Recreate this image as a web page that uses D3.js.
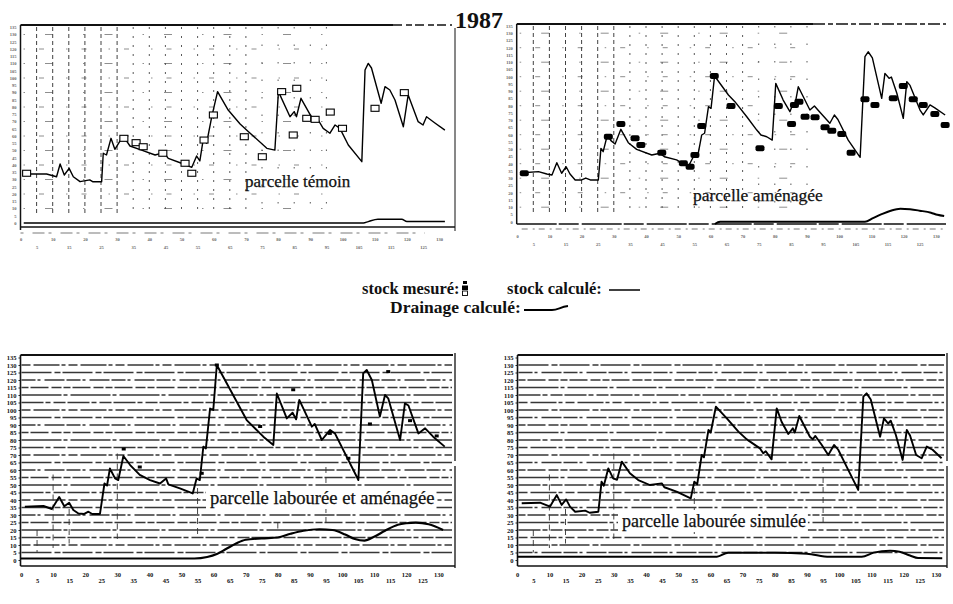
<!DOCTYPE html>
<html><head><meta charset="utf-8">
<script src="https://cdn.jsdelivr.net/npm/d3@7"></script>
<style>body{margin:0;background:#fff}svg{display:block}</style>
</head><body><svg id="c" width="953" height="604"></svg>
<script>
// ---------------- DATA ----------------
const title = "1987";
const yTickValues = d3.range(0, 136, 5);
const xTickRow1 = d3.range(0, 131, 10);
const xTickRow2 = d3.range(5, 131, 10);

// parcelle témoin
const temoinDays = [1.4,8.1,11.2,12.3,13.6,15.1,16.4,18.5,21.5,22.4,25.2,25.7,26.7,28.1,29.3,31.6,32.4,34,37.6,41.8,44.5,45.9,50,53.2,54.7,55.7,56.8,57.8,59.4,61.2,64.5,68.2,70.8,76.5,79,80.1,83.7,85,85.7,87.1,90.9,91.9,94,96.1,97.7,99.2,101.8,106,107,108,109,112,113.2,114.7,116.3,118.9,120.4,123.5,125,126.1,128.7,131.8];
const temoinStock = [33.8,33.8,31.9,40.7,33.1,37.7,31.9,28.5,29.7,28.5,28.5,48.1,46.9,58.4,50.8,59.1,58.4,53.1,50.3,46.9,48.5,44.6,41.2,38.4,46.2,42.8,58.4,55,73.3,90.6,77.9,68.3,63,51.5,50.3,90.6,73.3,76.8,73.3,86,71,73.1,65.3,61.9,67.6,65.3,53.8,42.3,105.5,110.1,106.9,82.6,94,91.7,84.8,66.4,88.3,69.9,67.6,73.3,69,64.1];
const temoinMesDays = [1.9,32.1,35.9,38.1,44.2,51.1,53.2,57,59.9,69.5,75.1,81.1,84.7,85.8,88.9,91.5,96.2,100,110.1,119.2];
const temoinMes = [34.3,58.4,55.4,52.6,48.1,41.2,34.3,57.2,74.5,59.5,45.7,90.6,60.7,92.9,72.2,71.5,76.5,65.3,79.1,89.9];
const temoinDrainDays = [1,106.5,108,111,118.4,120,131.8];
const temoinDrain = [0,0,1,2.6,2.6,1,1];

// parcelle aménagée
const amenDays = [1.9,6.6,9.2,10.8,12.3,13.8,15.2,16.4,18,20,21.3,22.7,25.2,26,26.7,28,29.1,30.4,32.2,34.5,37.1,41.8,44.3,45.7,49.5,53.1,55,56,57.3,58.2,59.4,60.2,61.3,65.6,67.6,71.3,74.4,75.7,77.5,79.2,80.3,82.6,84.7,85.7,86.2,87.3,90.9,92.3,93.6,97.1,98.5,99.6,102.8,106.5,108,109,110.3,113.2,114.2,115.5,116.2,117.9,119.9,121,122,125.1,126.1,128.2,129.7,132.9];
const amenStock = [33.8,34.5,32.9,32.2,40.7,33.4,37.9,32.9,28.8,28.8,30.1,28.8,28.8,50.6,48.3,59.8,55.9,53.6,63.7,54.5,49.9,46,47.2,44.8,42.6,37.9,46,44.5,59.8,61,79.3,78.2,100.5,87.4,82.8,72.4,63.2,59.8,58.6,56.3,95.4,83.9,75.9,81.7,80,93.1,77,79.8,76.5,67.9,73.6,70.5,56.3,44.4,113.8,117.2,113,85.1,102.3,98.9,99.8,88.6,71.3,96.6,94,77,73.6,80.5,78.5,73.6];
const amenMesDays = [2.2,28.3,32.2,36.6,38.4,44.9,51.6,53.7,55.2,57.3,61.2,66.4,75.4,81.1,85.2,86.1,87.5,89.4,92.5,95.6,97.7,100.8,103.7,108,111.1,116.8,119.9,123,126.1,129.7,132.9];
const amenMes = [33.4,58.6,67.4,57.5,52.9,47.6,40.3,37.9,46,66,100.5,79.8,50.6,79.8,67.4,80.5,82.8,72.4,72,65.1,62.8,60.5,47.6,84.4,80.5,85.1,93.6,84.4,80.5,74.3,66.7];
const amenDrainDays = [61.4,63,108,110.5,113,116,119,122,125,128.5,130.5,132.6];
const amenDrain = [-1.6,0,0,2.5,5,7.6,9,8.6,7.6,6.2,4.8,3.9];

// parcelle labourée et aménagée
const labDays = [1.2,7,9.6,11.9,13.5,15,16.3,17.9,19.7,21,22.2,24.6,26,26.8,27.7,29.3,30.3,31.9,34,37,40.2,43.3,45.2,45.9,49.5,53.5,54.7,55.7,56.8,57.6,58.9,59.9,61,70.3,75.5,78.6,79.7,82.8,84.6,85.7,86.7,90.6,91.5,93.7,96.3,97.8,105.1,106.6,107.7,109.3,111.8,113.4,114.4,118.1,119.6,120.7,123.8,125.9,128.4,132];
const labStock = [35.5,36,34,42,35.8,38.2,33.3,31,30.7,32.2,30.7,30.7,51,49.6,61,54.4,53.3,69.3,63.3,56.7,53.3,51,54.4,50.4,47.8,44.4,54.4,53.3,75.6,74.4,101,100,130,93.3,82.2,76.7,111,94.4,98.2,93.8,106.7,88.9,90.7,80,86.7,84.4,53.3,124.4,126.7,120,95.6,110,107.8,80,104.4,103,84.4,87.8,82.2,75.6];
const labMesDays = [32,37,56.3,61,74.5,84.8,96.2,102,108.7,114.4,121.2,129.5];
const labMes = [74,62,57.8,130,89,113.5,84.4,67.8,90.7,125.6,92.9,82.7];
const labDrainDays = [0,54,58,61,64,67,70,75,80,84,88,93,97,101,104,107,110,113.4,117.4,120,123,127,131.5];
const labDrain = [1,1,2,4,7.5,11,13.5,14.4,15,17.5,19.5,20.5,20,17,14,12.9,15.5,19.5,23.5,24.5,24.9,23.8,20];

// parcelle labourée simulée
const simDays = [1.4,7.1,10.2,12.3,13.8,15.2,16.4,18,21.1,22.5,25.2,26.2,26.9,28.3,29.8,31,32.5,35,37.6,41.2,44.9,45.7,49.5,53.9,55,55.9,57.3,58,59.4,60.1,61.7,65.1,68.7,71.3,75.4,76.4,77.2,79,80.6,82.1,84.2,85.6,86.2,87.6,90.9,91.8,92.6,94.6,96.6,98.4,99.7,102.3,105.9,107.5,108.5,109.8,112.7,113.9,115.2,116,117.6,119.7,121,122,123.9,125.6,127.2,129,131.8];
const simStock = [37.8,38.2,35.6,43.3,36.7,40.4,35.6,32.2,32.9,31.5,32.2,52.2,49.5,61.1,54.4,53.5,65.6,57.8,53.3,50,51.1,48.5,45.6,41.1,52.2,50.5,70,68.5,86.7,85,102.2,94.4,85.6,80.4,74.4,71.1,72.5,67.1,101.1,92.2,84,87.8,85,96,82.2,80.5,82.7,76.7,70,76.7,73.5,62.2,46.7,108.9,111.1,107,82.2,94.4,91,92.9,83.3,66.7,86.7,83,70,67.8,75.6,73.5,67.8];
const simDrainDays = [0,62,65.5,80,90,97,107,110.7,115.8,118.7,122,124.5,132];
const simDrain = [2.2,2.2,4.9,4.9,4.2,2.2,2.2,4.9,6.2,5.5,3,1.3,1.2];

const panelLabels = ["parcelle témoin","parcelle aménagée","parcelle labourée et aménagée","parcelle labourée simulée"];
const legendTexts = ["stock mesuré:","stock calculé:","Drainage calculé:"];

// ---------------- LAYOUT ----------------
const svg = d3.select('#c');
svg.append('rect').attr('width',953).attr('height',604).attr('fill','#fff');
const serif = "'Liberation Serif','DejaVu Serif',serif";

const panels = [
 {x0:20.5,k:3.22,y0:223,s:1.45, fr:[20.5,25,455,227], stock:d3.zip(temoinDays,temoinStock), mes:d3.zip(temoinMesDays,temoinMes), drain:d3.zip(temoinDrainDays,temoinDrain), mesType:'open', grid:'v', vmax:95, label:panelLabels[0], lx:245, ly:187, fs:17, lw:1.4, dw:1.4, small:true, axisY:233},
 {x0:517.2,k:3.22,y0:221.7,s:1.45, fr:[516.7,24,946,224], stock:d3.zip(amenDays,amenStock), mes:d3.zip(amenMesDays,amenMes), drain:d3.zip(amenDrainDays,amenDrain), mesType:'fill', grid:'v', vmax:90, label:panelLabels[1], lx:693, ly:200.5, fs:17.5, lw:1.4, dw:2, small:true, axisY:229},
 {x0:21,k:3.21,y0:560,s:1.5, fr:[20.5,355,455,566], stock:d3.zip(labDays,labStock), mes:d3.zip(labMesDays,labMes), drain:d3.zip(labDrainDays,labDrain), mesType:'mark', grid:'h', label:panelLabels[2], lx:210, ly:504, fs:18.6, lw:1.9, dw:2.2, small:false},
 {x0:517.2,k:3.22,y0:560,s:1.5, fr:[517.5,355,947,566], stock:d3.zip(simDays,simStock), mes:[], drain:d3.zip(simDrainDays,simDrain), mesType:'none', grid:'h', label:panelLabels[3], lx:622, ly:527, fs:18, lw:1.9, dw:2, small:false}
];

const hPatterns = ["22,2,5,3,12,2","9,3,26,2,4,3","30,3,6,2","14,2,3,4,20,2","7,2,18,3,10,2","40,2,4,3"];

panels.forEach((p,pi)=>{
  const x = d3.scaleLinear().domain([0,130]).range([p.x0, p.x0+130*p.k]);
  const y = d3.scaleLinear().domain([0,135]).range([p.y0, p.y0-135*p.s]);
  const [L,T,R,B] = p.fr;
  const g = svg.append('g');

  // grid
  if (p.grid==='h') {
    d3.range(5,131,5).forEach((v,i)=>{
      g.append('line').attr('x1',L+1).attr('x2',R-3).attr('y1',y(v)).attr('y2',y(v))
       .attr('stroke','#151515').attr('stroke-width',1.3)
       .attr('stroke-dasharray',hPatterns[(i*5+pi)%hPatterns.length]).attr('opacity',0.85);
    });
    [5,10,15,30,55,80,95].forEach((d,i)=>{
      g.append('line').attr('x1',x(d)).attr('x2',x(d)).attr('y1',y(20+((i*37)%60))).attr('y2',y(((i*23)%20)+5))
       .attr('stroke','#333').attr('stroke-width',0.9).attr('stroke-dasharray','6,4');
    });
  } else {
    d3.range(5,p.vmax+1,5).forEach((d,i)=>{
      g.append('line').attr('x1',x(d)).attr('x2',x(d)).attr('y1',T+2).attr('y2',y(6))
       .attr('stroke','#222').attr('stroke-width',1)
       .attr('stroke-dasharray', d<=30 ? '4,3' : (d<=70 ? '2,7' : '1.5,16'))
       .attr('opacity', d<=30 ? 0.85 : 0.75);
    });
    d3.range(10,131,10).forEach((v,i)=>{
      g.append('line').attr('x1',L+3).attr('x2',x(p.vmax)).attr('y1',y(v)).attr('y2',y(v))
       .attr('stroke','#444').attr('stroke-width',1)
       .attr('stroke-dasharray', (i%2? '1.5,14,5,22' : '1.5,20,8,30')).attr('opacity',0.6);
    });
  }

  // label background + label
  const lab = g.append('text').attr('x',p.lx).attr('y',p.ly).text(p.label)
    .attr('font-family',serif).attr('font-size',p.fs).attr('fill','#111')
    .attr('stroke','#111').attr('stroke-width',0.25);
  if (p.grid==='h') {
    const bb = lab.node().getBBox();
    g.insert('rect','text').attr('x',bb.x-4).attr('y',bb.y-1).attr('width',bb.width+6).attr('height',bb.height+2).attr('fill','#fff');
  }

  // frame
  const fs = g.append('g').attr('stroke','#111').attr('fill','none');
  if (pi===0) {
    fs.append('line').attr('x1',L).attr('x2',393).attr('y1',T).attr('y2',T).attr('stroke-width',1.8);
    fs.append('line').attr('x1',393).attr('x2',452).attr('y1',T).attr('y2',T).attr('stroke-width',1.3).attr('stroke-dasharray','9,4,6,3');
    fs.append('line').attr('x1',L).attr('x2',L).attr('y1',T).attr('y2',B+3).attr('stroke-width',1.5);
    fs.append('line').attr('x1',R).attr('x2',R).attr('y1',T+3).attr('y2',B+4).attr('stroke-width',1);
    fs.append('line').attr('x1',L).attr('x2',R).attr('y1',B).attr('y2',B).attr('stroke-width',1.6);
    fs.append('line').attr('x1',L).attr('x2',R-30).attr('y1',p.axisY).attr('y2',p.axisY).attr('stroke-width',0.8).attr('stroke-dasharray','3,9,12,4').attr('opacity',0.7);
  } else if (pi===1) {
    fs.append('line').attr('x1',L).attr('x2',813).attr('y1',T).attr('y2',T).attr('stroke-width',1.8);
    fs.append('line').attr('x1',813).attr('x2',R).attr('y1',T).attr('y2',T).attr('stroke-width',1.3).attr('stroke-dasharray','12,3,5,3');
    fs.append('line').attr('x1',L).attr('x2',L).attr('y1',T).attr('y2',B).attr('stroke-width',1.5);
    fs.append('line').attr('x1',L).attr('x2',R).attr('y1',B).attr('y2',B).attr('stroke-width',1.5).attr('stroke-dasharray','40,2,20,3');
    fs.append('line').attr('x1',L+5).attr('x2',R).attr('y1',p.axisY).attr('y2',p.axisY).attr('stroke-width',0.8).attr('stroke-dasharray','6,5,2,4').attr('opacity',0.7);
  } else {
    fs.append('line').attr('x1',L).attr('x2',R-2).attr('y1',T).attr('y2',T).attr('stroke-width',1.8);
    fs.append('line').attr('x1',L).attr('x2',L).attr('y1',T).attr('y2',B).attr('stroke-width',1.6);
    fs.append('line').attr('x1',L).attr('x2',R).attr('y1',B).attr('y2',B).attr('stroke-width',1.6);
    fs.append('line').attr('x1',R).attr('x2',R).attr('y1',T-2).attr('y2',B+2).attr('stroke-width',1.3).attr('stroke-dasharray','108,5,200');
  }

  // axes
  const tickFont = p.small ? 4.5 : 6.5;
  const tickFill = p.small ? '#666' : '#111';
  const ay = g.append('g').attr('transform',`translate(${L},0)`)
    .call(d3.axisLeft(y).tickValues(yTickValues).tickSize(p.small?0:2).tickPadding(p.small?4:2));
  ay.select('.domain').remove();
  ay.selectAll('line').attr('stroke','#222');
  ay.selectAll('text').attr('font-family',serif).attr('font-size',tickFont).attr('font-weight','bold').attr('fill',tickFill);
  const r1 = p.small ? B+11 : 572, r2 = p.small ? B+19 : 578;
  [[xTickRow1,r1],[xTickRow2,r2]].forEach(([vals,ry])=>{
    const ax = g.append('g').attr('transform',`translate(0,${ry})`)
      .call(d3.axisBottom(x).tickValues(vals).tickSize(0).tickPadding(0));
    ax.select('.domain').remove();
    ax.selectAll('text').attr('font-family',serif).attr('font-size',tickFont).attr('font-weight','bold').attr('fill',tickFill);
  });

  // drainage
  g.append('path').datum(p.drain)
    .attr('d',d3.line().x(d=>x(d[0])).y(d=>y(d[1])).curve(d3.curveMonotoneX))
    .attr('fill','none').attr('stroke','#000').attr('stroke-width',p.dw);

  // stock calculé
  g.append('path').datum(p.stock)
    .attr('d',d3.line().x(d=>x(d[0])).y(d=>y(d[1])))
    .attr('fill','none').attr('stroke','#000').attr('stroke-width',p.lw).attr('stroke-linejoin','round');

  // stock mesuré
  if (p.mesType==='open') {
    g.selectAll('rect.m').data(p.mes).join('rect').attr('class','m')
      .attr('x',d=>x(d[0])-4).attr('y',d=>y(d[1])-3).attr('width',8).attr('height',6)
      .attr('fill','#fff').attr('stroke','#000').attr('stroke-width',1.1);
  } else if (p.mesType==='fill') {
    g.selectAll('rect.m').data(p.mes).join('rect').attr('class','m')
      .attr('x',d=>x(d[0])-4.5).attr('y',d=>y(d[1])-3).attr('width',9).attr('height',6).attr('rx',2)
      .attr('fill','#000');
  } else if (p.mesType==='mark') {
    g.selectAll('rect.m').data(p.mes).join('rect').attr('class','m')
      .attr('x',d=>x(d[0])-2).attr('y',d=>y(d[1])-1.5).attr('width',4).attr('height',3)
      .attr('fill','#000');
  }
});

// title
svg.append('text').attr('x',455).attr('y',28).text(title)
  .attr('font-family',serif).attr('font-weight','bold').attr('font-size',24).attr('fill','#111');

// legend
const lg = svg.append('g').attr('font-family',serif).attr('font-weight','bold').attr('font-size',16.5).attr('fill','#111');
lg.append('text').attr('x',362).attr('y',294).text(legendTexts[0]);
lg.append('rect').attr('x',463).attr('y',281).attr('width',4).attr('height',3).attr('fill','#000');
lg.append('rect').attr('x',462).attr('y',285.5).attr('width',6).attr('height',4.5).attr('fill','#000');
lg.append('rect').attr('x',462.5).attr('y',291).attr('width',5).attr('height',4.5).attr('fill','#fff').attr('stroke','#000').attr('stroke-width',0.9);
lg.append('text').attr('x',507).attr('y',294).text(legendTexts[1]);
lg.append('line').attr('x1',609).attr('x2',640).attr('y1',290).attr('y2',290).attr('stroke','#000').attr('stroke-width',1.5);
lg.append('text').attr('x',390).attr('y',313).text(legendTexts[2]).attr('font-size',17.5);
lg.append('path').attr('d','M524,310 L552,310 C558,310 560,307 568,306').attr('fill','none').attr('stroke','#000').attr('stroke-width',2);
</script>
</body></html>
